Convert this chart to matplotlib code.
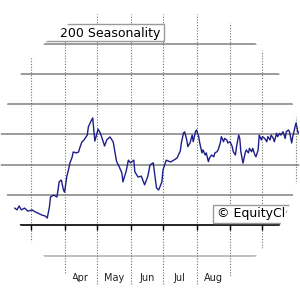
import matplotlib
matplotlib.use('Agg')
import matplotlib.pyplot as plt
import numpy as np
from matplotlib.path import Path
from matplotlib.patches import PathPatch, Rectangle

# day of year / seasonal index
days = [45, 47, 49, 51, 54, 57, 61, 64, 66, 70, 73, 75, 77, 78, 81, 84, 86, 88, 90, 91,
        93, 95, 96, 98, 99, 102, 104, 105, 107, 109, 112, 113, 115, 117, 119, 122, 124, 125, 128, 130,
        133, 136, 139, 142, 144, 145, 148, 150, 152, 155, 156, 159, 162, 165, 168, 170, 173, 176, 178, 181,
        182, 185, 189, 192, 195, 198, 199, 201, 202, 204, 205, 207, 209, 210, 212, 213, 215, 216, 218, 219,
        221, 222, 224, 225, 227, 229, 230, 232, 233, 235, 236, 238, 239, 241, 242, 244, 246, 247, 249, 250,
        252, 253, 254, 256, 258, 259, 261, 262, 264, 265, 267, 268, 270, 271, 273, 274, 276, 278, 279, 281,
        282, 284, 285, 287, 288, 290, 291, 293, 295, 296, 298, 299, 301, 302, 304, 305, 307, 309]
values = [0.56, 0.50, 0.63, 0.50, 0.56, 0.46, 0.50, 0.43, 0.40, 0.33, 0.30, 0.23, 0.60, 0.93, 0.99, 0.93, 1.43, 1.49, 1.16, 1.09,
          1.59, 1.89, 2.06, 2.25, 2.42, 2.39, 2.42, 2.55, 2.75, 2.82, 2.98, 3.25, 3.41, 3.55, 2.78, 3.18, 3.05, 2.95, 2.62, 2.82,
          2.92, 2.75, 2.12, 1.89, 1.72, 1.43, 1.79, 2.15, 2.06, 2.15, 1.76, 1.59, 1.62, 1.33, 1.62, 1.99, 2.06, 1.23, 1.16, 1.43,
          1.82, 2.15, 2.09, 2.15, 2.22, 2.45, 2.72, 3.05, 3.09, 2.82, 2.60, 2.72, 2.98, 2.76, 3.09, 3.15, 2.93, 2.72, 2.39, 2.49,
          2.32, 2.39, 2.10, 2.22, 2.32, 2.26, 2.39, 2.43, 2.49, 2.72, 2.93, 2.76, 2.87, 2.82, 2.72, 2.76, 2.60, 2.43, 2.32, 2.60,
          2.98, 2.87, 2.43, 2.05, 2.39, 2.49, 2.39, 2.54, 2.43, 2.54, 2.32, 2.26, 2.49, 2.98, 2.82, 2.93, 2.87, 2.76, 2.93, 2.82,
          2.98, 2.87, 2.76, 3.04, 2.93, 3.04, 2.98, 3.09, 2.87, 3.09, 3.15, 3.09, 2.72, 2.93, 3.22, 3.38, 3.05, 3.15]

month_starts = [60, 91, 121, 152, 182, 213, 244, 274, 305]
month_names = ['Mar', 'Apr', 'May', 'Jun', 'Jul', 'Aug', 'Sep', 'Oct']
grid_levels = [1, 2, 3, 4, 5, 6]

fig = plt.figure(figsize=(3, 3), dpi=100)
ax = fig.add_axes([0, 0, 1, 1])
ax.set_xlim(31.3, 308.7)
ax.set_ylim(-2.486, 7.458)
ax.axis('off')

for lv in grid_levels:
    ax.axhline(lv, color='#8a8a8a', lw=1.2, zorder=1)
ax.axhline(-1.03, color='#b4b4b4', lw=1.2, zorder=1)
ax.vlines(month_starts, -1.96, 7.0, colors='#707070', linestyles=(0, (1, 1.5)), lw=0.8, zorder=1)
ax.axhline(0, color='black', lw=1.2, zorder=2)
ax.vlines(month_starts, -0.17, 0, colors='black', lw=1, zorder=2)

for i, name in enumerate(month_names):
    mid = (month_starts[i] + month_starts[i + 1]) / 2
    ax.text(mid, -1.76, name, ha='center', va='center', fontsize=7, color='#222222')

ax.plot(days, values, color='#1e1e8a', lw=1, zorder=3)

# title box and watermark
fig.add_artist(Rectangle((20 / 300, 1 - 41 / 300), 144 / 300, 17 / 300, transform=fig.transFigure,
                         facecolor='white', edgecolor='#9a9a9a', lw=1, zorder=5))
fig.text(160 / 300, 1 - 33 / 300, '200 Seasonality', ha='right', va='center', fontsize=9, zorder=6)
fig.add_artist(Rectangle((213 / 300, 1 - 223 / 300), 120 / 300, 18 / 300, transform=fig.transFigure,
                         facecolor='white', edgecolor='#9a9a9a', lw=1, zorder=5))
fig.text(217 / 300, 1 - 214 / 300, '© EquityClock.com', ha='left', va='center', fontsize=9, zorder=6)

# round crop
theta = np.linspace(0, 2 * np.pi, 300)
outer = [(0, 0), (1, 0), (1, 1), (0, 1), (0, 0)]
inner = list(zip(0.5 + 0.5 * np.cos(theta[::-1]), 0.5 + 0.5 * np.sin(theta[::-1])))
codes = [Path.MOVETO] + [Path.LINETO] * 3 + [Path.CLOSEPOLY] + [Path.MOVETO] + [Path.LINETO] * (len(inner) - 2) + [Path.CLOSEPOLY]
mask = PathPatch(Path(outer + inner, codes), transform=fig.transFigure, facecolor='white', edgecolor='none', zorder=100)
fig.add_artist(mask)

fig.savefig('out.png', dpi=100)
